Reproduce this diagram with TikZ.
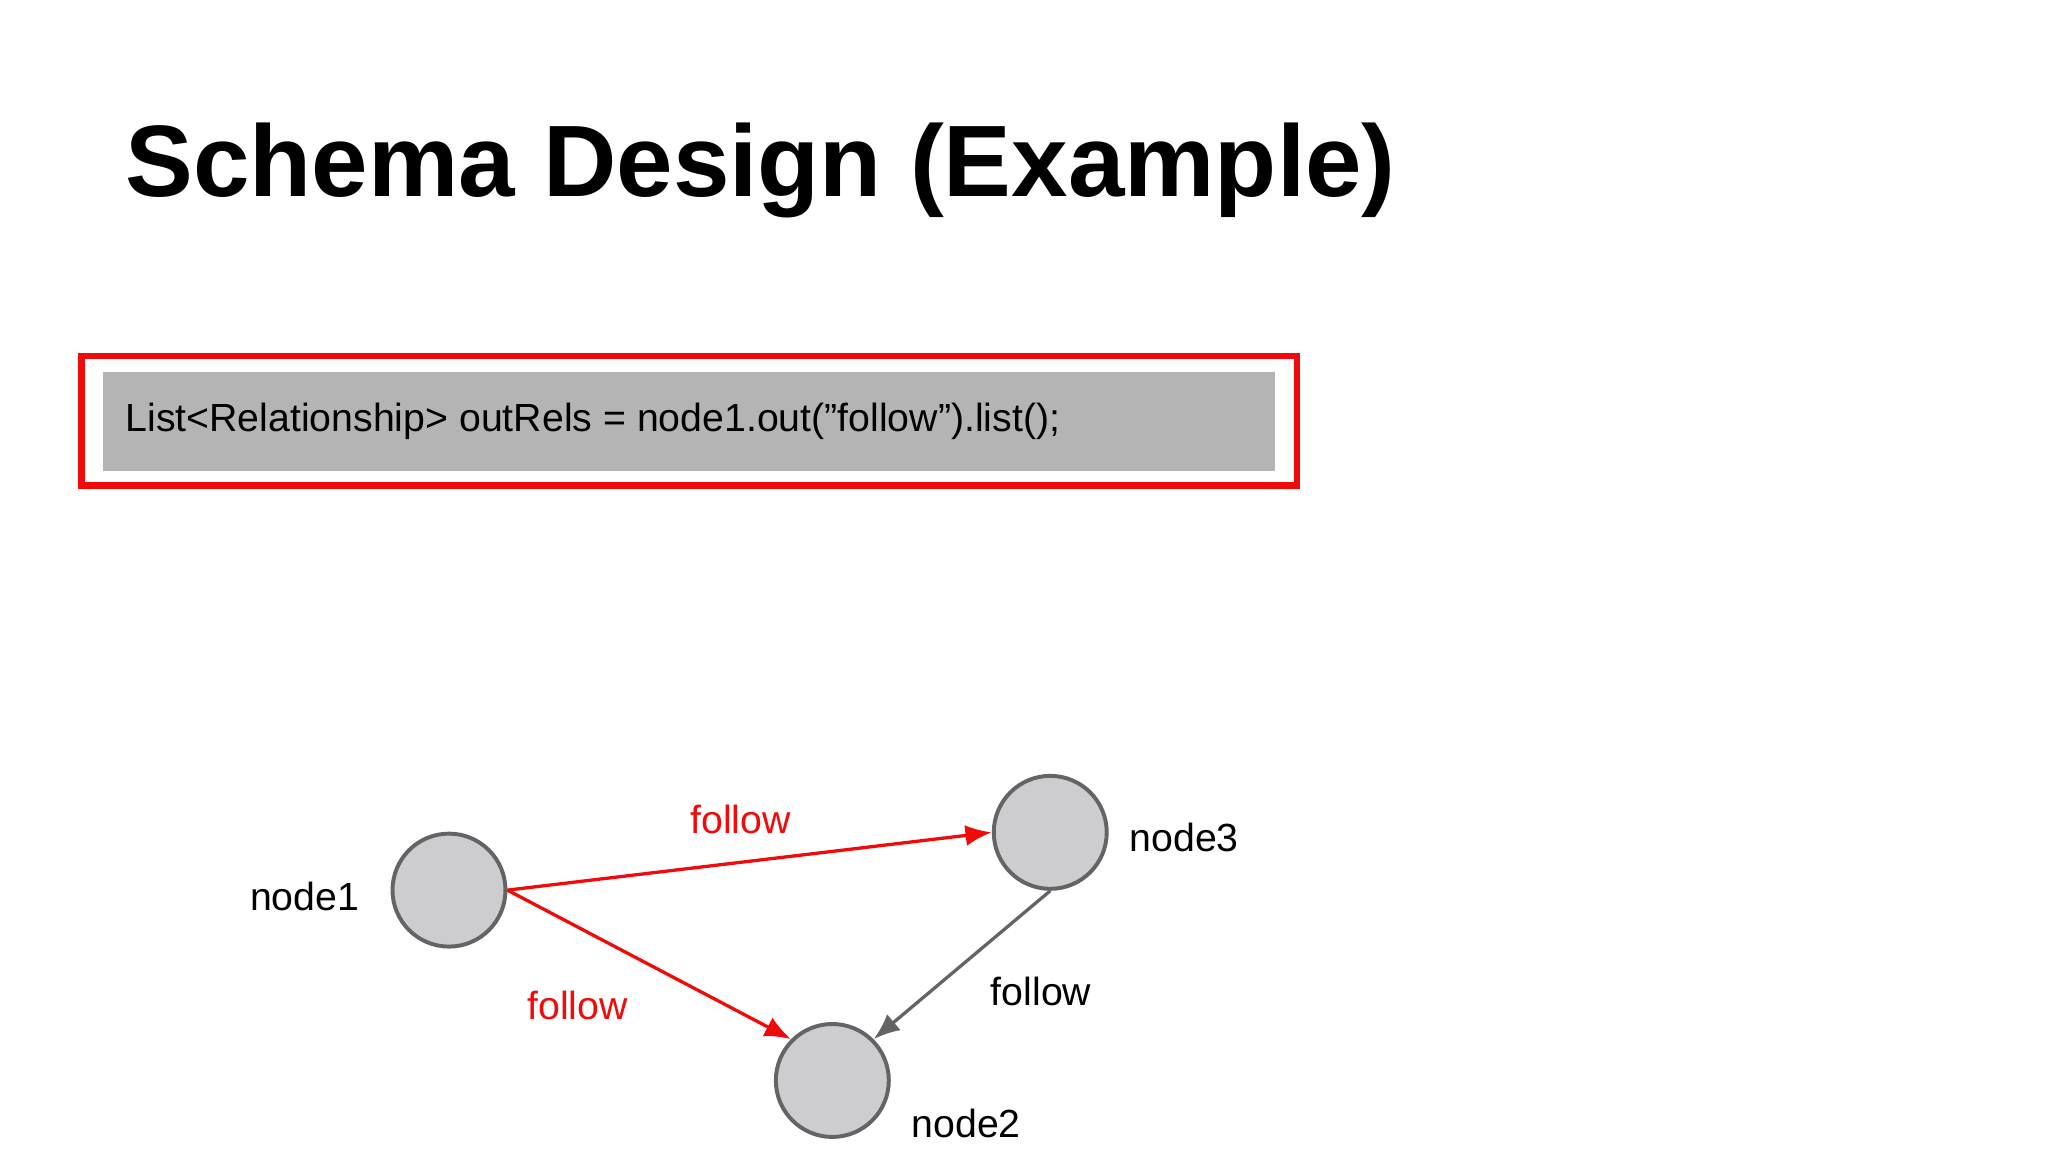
\documentclass[tikz,border=0pt]{standalone}
\usepackage{fontspec}
\setmainfont{Liberation Sans}
\usetikzlibrary{arrows.meta}
\definecolor{codegray}{HTML}{B4B4B4}
\definecolor{nodefill}{HTML}{CDCCCE}
\definecolor{nodeedge}{HTML}{646466}
\definecolor{myred}{HTML}{F00A0A}
\begin{document}
\begin{tikzpicture}[x=0.01cm,y=-0.01cm,
  vert/.style={circle,draw=nodeedge,fill=nodefill,line width=0.03cm,minimum size=0.86cm,inner sep=0pt},
  lbl/.style={font=\fontsize{8.5}{10}\selectfont,inner sep=0pt},
  redarrow/.style={draw=myred,line width=0.025cm,-{Latex[length=0.2cm,width=0.16cm]}},
  grayarrow/.style={draw=nodeedge,line width=0.025cm,-{Latex[length=0.2cm,width=0.16cm]}}]
\useasboundingbox (0,0) rectangle (1560,877.5);
\node[anchor=base west,inner sep=0pt,font=\fontsize{22}{26}\bfseries\selectfont] (title) at (95,150) {Schema Design (Example)};
\draw[myred,line width=0.05cm] (62,271) rectangle (988,370);
\node[fill=codegray,minimum width=8.92cm,minimum height=0.75cm,inner sep=0pt,anchor=north west] (code) at (78,283) {};
\node[lbl,anchor=west] (codetext) at (95,321) {List<Relationship> outRels = node1.out("follow").list();};
\node[vert] (n1) at (342,678) {};
\node[vert] (n3) at (800,634) {};
\node[vert] (n2) at (634,823) {};
\node[lbl] (l1) at (232,683) {node1};
\node[lbl] (l3) at (902,638) {node3};
\node[lbl] (l2) at (736,856) {node2};
\draw[redarrow] (n1.east) -- (n3.west);
\draw[redarrow] (n1.east) -- (n2.north west);
\draw[grayarrow] (n3.south) -- (n2.north east);
\node[lbl,text=myred] (f1) at (564,624) {follow};
\node[lbl,text=myred] (f2) at (440,766) {follow};
\node[lbl] (f3) at (793,755) {follow};
\end{tikzpicture}
\end{document}
